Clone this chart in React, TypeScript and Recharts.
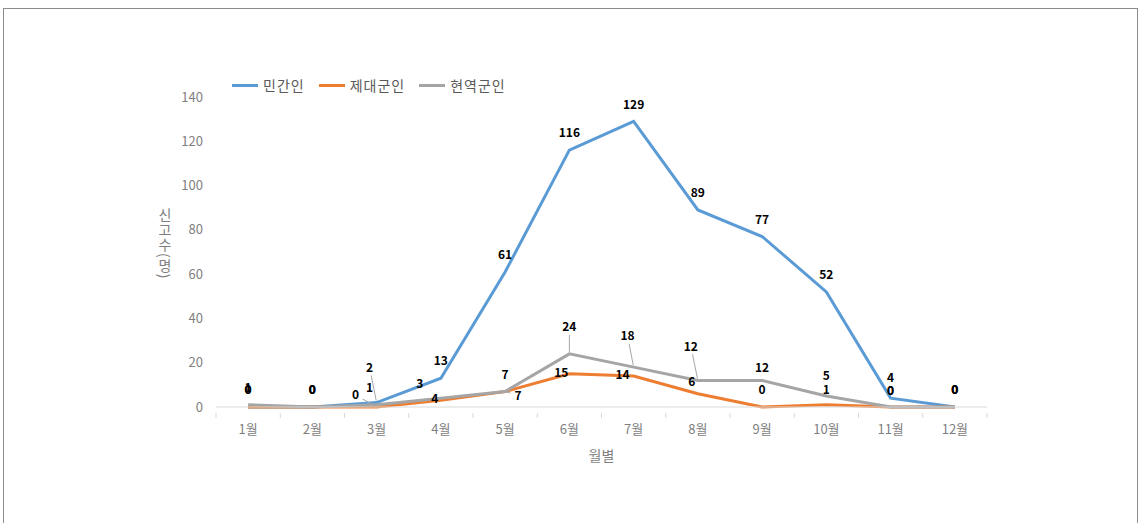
import React from "react";
import { LineChart, Line, XAxis, YAxis, Legend, LabelList } from "recharts";

const months = ["1월", "2월", "3월", "4월", "5월", "6월", "7월", "8월", "9월", "10월", "11월", "12월"];
const civilian = [0, 0, 2, 13, 61, 116, 129, 89, 77, 52, 4, 0];
const veteran = [0, 0, 0, 3, 7, 15, 14, 6, 0, 1, 0, 0];
const active = [1, 0, 1, 4, 7, 24, 18, 12, 12, 5, 0, 0];
const yTicks = [0, 20, 40, 60, 80, 100, 120, 140];

const FONT = "'Noto Sans CJK KR', 'Noto Sans', sans-serif";
const W = 1141;
const H = 523;
const PLOT_LEFT = 216;
const PLOT_RIGHT = 987;
const BAND = (PLOT_RIGHT - PLOT_LEFT) / months.length;

const SERIES = [
  { key: "민간인", color: "#5b9bd5" },
  { key: "제대군인", color: "#ed7d31" },
  { key: "현역군인", color: "#a5a5a5" },
];

// hand-moved data labels in the original: month index -> [dx, dy, leader line]
const LABEL_NUDGE: Record<string, Record<number, [number, number, boolean?]>> = {
  민간인: { 2: [-7, -18, true], 10: [0, -3] },
  제대군인: { 2: [-21, 5, true], 3: [-21, 0], 4: [13, 21, true], 5: [-8, 16], 6: [-11, 16], 7: [-6, 5], 9: [0, 2], 10: [0, 1] },
  현역군인: { 2: [-7, 0], 3: [-6, 18], 5: [0, -10, true], 6: [-6, -14, true], 7: [-7, -17, true], 8: [0, 4], 9: [0, -3], 10: [0, 1] },
};

const data = months.map((m, i) => ({
  month: m,
  민간인: civilian[i],
  제대군인: veteran[i],
  현역군인: active[i],
}));

// ticks sit between categories, like Excel
function MonthTick(props: any) {
  const { x, y, payload, index } = props;
  const left = x - BAND / 2;
  return (
    <g>
      <line x1={left} y1={y - 2} x2={left} y2={y + 3} stroke="#d9d9d9" />
      {index === months.length - 1 && (
        <line x1={left + BAND} y1={y - 2} x2={left + BAND} y2={y + 3} stroke="#d9d9d9" />
      )}
      <text x={x} y={y + 19} textAnchor="middle" fill="#7f7f7f" fontSize={13} fontFamily={FONT}>
        {payload.value}
      </text>
    </g>
  );
}

function YTitle(props: any) {
  const { viewBox } = props;
  const cy = viewBox.y + viewBox.height / 2;
  return (
    <text
      x={165}
      y={cy - 44}
      fill="#7f7f7f"
      fontSize={14}
      fontFamily={FONT}
      style={{ writingMode: "vertical-rl", letterSpacing: 1 } as any}
    >
      신고수(명)
    </text>
  );
}

function makeLabel(seriesKey: string) {
  return function PointLabel(props: any) {
    const { x, y, value, index } = props;
    const nudge = LABEL_NUDGE[seriesKey][index] || [0, 0, false];
    const lx = x + nudge[0];
    const ly = y - 17 + nudge[1];
    let leader = null;
    if (nudge[2]) {
      const vx = x - lx;
      const vy = y - ly;
      const len = Math.sqrt(vx * vx + vy * vy);
      const ux = vx / len;
      const uy = vy / len;
      leader = (
        <line
          x1={lx + ux * 8}
          y1={ly + uy * 8}
          x2={x - ux * 2}
          y2={y - uy * 2}
          stroke="#a6a6a6"
          strokeWidth={1}
        />
      );
    }
    return (
      <g>
        {leader}
        <text
          x={lx}
          y={ly}
          dy="0.35em"
          textAnchor="middle"
          fontSize={12}
          fontWeight={700}
          fill="#000"
          fontFamily={FONT}
        >
          {value}
        </text>
      </g>
    );
  };
}

function LegendBox() {
  return (
    <div style={{ display: "flex", alignItems: "center", fontFamily: FONT, fontSize: 14, color: "#595959" }}>
      {SERIES.map((s) => (
        <div key={s.key} style={{ display: "flex", alignItems: "center", marginRight: 14 }}>
          <div style={{ width: 26, height: 3, background: s.color, marginRight: 5 }} />
          <span style={{ letterSpacing: 1 }}>{s.key}</span>
        </div>
      ))}
    </div>
  );
}

export default function App() {
  return (
    <div style={{ position: "fixed", left: 0, top: 0, width: W, height: H, background: "#fff" }}>
      <div
        style={{
          position: "absolute",
          left: 3,
          top: 8,
          width: 1133,
          height: 520,
          borderTop: "1px solid #8c8c8c",
          borderLeft: "1px solid #8c8c8c",
          borderRight: "1px solid #8c8c8c",
        }}
      />
      <LineChart
        width={W}
        height={H}
        data={data}
        margin={{ top: 97, right: W - PLOT_RIGHT, bottom: 56, left: 0 }}
        style={{ position: "absolute", left: 0, top: 0 }}
      >
        <XAxis
          dataKey="month"
          height={60}
          padding={{ left: BAND / 2, right: BAND / 2 }}
          axisLine={{ stroke: "#d9d9d9" }}
          tickLine={false}
          tick={<MonthTick />}
          interval={0}
          label={{
            value: "월별",
            position: "insideTop",
            dy: 39,
            fill: "#7f7f7f",
            fontSize: 14,
            fontFamily: FONT,
          }}
        />
        <YAxis
          width={PLOT_LEFT}
          domain={[0, 140]}
          ticks={yTicks}
          axisLine={false}
          tickLine={false}
          tickMargin={7}
          tick={{ fill: "#7f7f7f", fontSize: 13, fontFamily: FONT }}
          label={<YTitle />}
        />
        <Legend
          verticalAlign="middle"
          align="center"
          layout="horizontal"
          content={<LegendBox />}
          wrapperStyle={{ top: 75, left: 232, width: 400 }}
        />
        {SERIES.map((s) => (
          <Line
            key={s.key}
            dataKey={s.key}
            stroke={s.color}
            strokeWidth={3}
            dot={false}
            isAnimationActive={false}
          >
            <LabelList dataKey={s.key} content={makeLabel(s.key)} />
          </Line>
        ))}
      </LineChart>
    </div>
  );
}
